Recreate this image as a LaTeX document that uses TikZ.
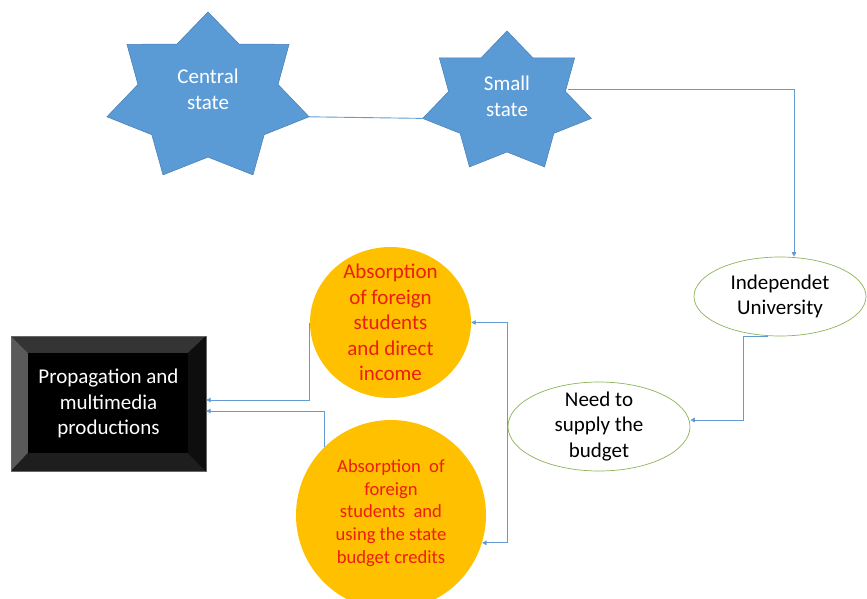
\documentclass[tikz,border=0pt]{standalone}
\usepackage{fontspec}
\setmainfont{Carlito}
\usetikzlibrary{shapes.geometric,arrows.meta}
\definecolor{starblue}{RGB}{91,155,213}
\definecolor{starline}{RGB}{70,125,180}
\definecolor{connblue}{RGB}{100,155,210}
\definecolor{ellgreen}{RGB}{140,180,90}
\definecolor{orangefill}{RGB}{255,192,0}
\definecolor{redtext}{RGB}{235,30,15}
\definecolor{bevtop}{RGB}{52,52,52}
\definecolor{bevleft}{RGB}{90,90,90}
\definecolor{bevbot}{RGB}{30,30,30}
\definecolor{bevright}{RGB}{14,14,14}
\tikzset{
  bigfont/.style={font=\fontsize{21}{25.6}\selectfont},
  startext/.style={bigfont,text=white,align=center,inner sep=0pt},
  ellnode/.style={ellipse,draw=ellgreen,line width=0.7pt,fill=white,inner sep=0pt},
  elltext/.style={bigfont,align=center,inner sep=0pt},
  orangenode/.style={ellipse,fill=orangefill,inner sep=0pt},
  orangetext/.style={text=redtext,align=center,inner sep=0pt},
  conn/.style={draw=connblue,line width=0.9pt},
  arr/.style={conn,-{Triangle[length=4.5pt,width=4.5pt]}},
  starshape/.style={fill=starblue,draw=starline,line width=0.5pt}
}
\begin{document}
\begin{tikzpicture}[x=1pt,y=-1pt]
\useasboundingbox (0,0) rectangle (867,598);
% stars
\path[starshape] plot[samples at={0,...,13}]
  ({208+1.21*ifthenelse(mod(\x,2)==0,85.7,59.4)*cos(90+\x*360/14)},
   {97.7-ifthenelse(mod(\x,2)==0,85.7,59.4)*sin(90+\x*360/14)}) -- cycle;
\path[starshape] plot[samples at={0,...,13}]
  ({507+1.21*ifthenelse(mod(\x,2)==0,71.5,49.5)*cos(90+\x*360/14)},
   {102.5-ifthenelse(mod(\x,2)==0,71.5,49.5)*sin(90+\x*360/14)}) -- cycle;
\coordinate (csR) at (309,116.8);
\coordinate (ssL) at (423.5,118.4);
\coordinate (ssE) at (568,89);
\node[startext] (cs) at (208,89) {Central\\state};
\node[startext] (ss) at (507,96) {Small\\state};
% ellipses
\node[ellnode,minimum width=172pt,minimum height=79pt] (iu) at (780,296.5) {};
\node[elltext] (iut) at (iu.center) {Independet\\University};
\node[ellnode,minimum width=182pt,minimum height=89pt] (need) at (599,426.5) {};
\node[elltext] (needt) at (need.center) {Need to\\supply the\\budget};
% orange circles
\node[orangenode,minimum width=161pt,minimum height=151pt] (c1) at (390.5,322.5) {};
\node[orangetext,bigfont] (c1t) at (c1.center) {Absorption\\of foreign\\students\\and direct\\income};
\node[orangenode,minimum width=190pt,minimum height=190pt] (c2) at (391,515) {};
\node[orangetext,font=\fontsize{18.6}{22.7}\selectfont] (c2t) at ([yshift=2pt]c2.center) {Absorption~ of\\foreign\\students~ and\\using the state\\budget credits};
% black bevel box
\fill[black] (11,336) rectangle (206,471);
\fill[bevtop] (11,336) -- (206,336) -- (188,353) -- (28,353) -- cycle;
\fill[bevleft] (11,336) -- (28,353) -- (28,453) -- (11,471) -- cycle;
\fill[bevbot] (11,471) -- (206,471) -- (188,453) -- (28,453) -- cycle;
\fill[bevright] (206,336) -- (206,471) -- (188,453) -- (188,353) -- cycle;
\fill[black] (28,353) rectangle (188,453);
\draw[black!60,line width=0.5pt] (11,336) rectangle (206,471);
\node[bigfont,text=white,align=center,inner sep=0pt,minimum width=195pt,minimum height=135pt] (pm) at (108.5,403.5) {Propagation and\\multimedia\\productions};
% connectors
\draw[conn] (csR) -- (ssL);
\draw[arr] (ssE) -| ([xshift=14pt]iu.north);
\draw[arr] ([xshift=-12pt]iu.south) -| (743,420) -- ([yshift=6.5pt]need.east);
\draw[arr] (need.west) |- (c1.east);
\draw[arr] (need.west) |- (c2.-17);
\draw[arr] (c1.west) |- ([yshift=3.5pt]pm.east);
\draw[arr] (c2.134) |- ([yshift=-7.5pt]pm.east);
\end{tikzpicture}
\end{document}
